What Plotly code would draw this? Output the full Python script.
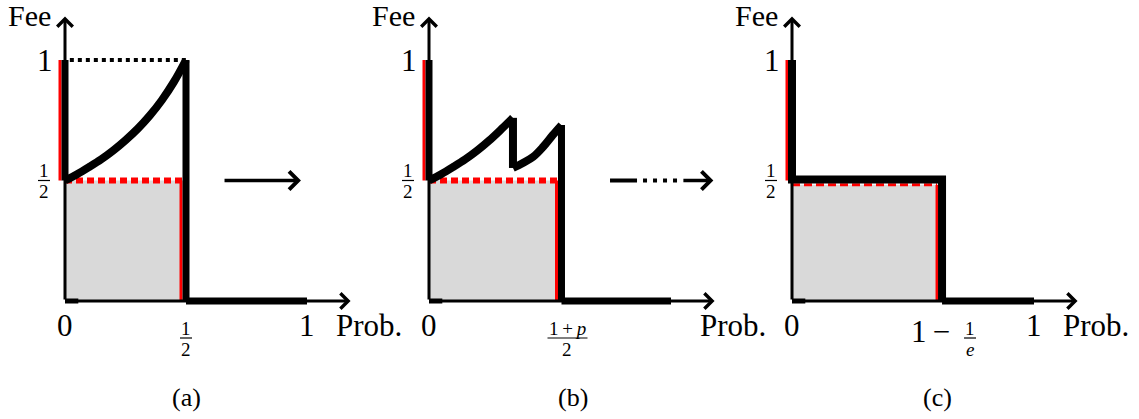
import plotly.graph_objects as go

# values (x = Prob., y = Fee)
fee_low = 0.5
fee_high = 1.0
prob_end = 1.0
axis_end = 1.2

# (a) curve from 1/2 up to 1, then cut at 1/2
a_curve_x = [0, 0.05, 0.1, 0.15, 0.2, 0.25, 0.3, 0.35, 0.4, 0.45, 0.5]
a_curve_y = [0.5, 0.526, 0.556, 0.588, 0.625, 0.667, 0.714, 0.769, 0.833, 0.909, 1.0]
a_cut = 0.5

# (b) two pieces with a jump, cut at (1+p)/2
b_curve1_x = [0, 0.05, 0.1, 0.15, 0.2, 0.25, 0.3, 0.347]
b_curve1_y = [0.5, 0.526, 0.556, 0.588, 0.625, 0.667, 0.714, 0.76]
b_curve2_x = [0.347, 0.388, 0.43, 0.471, 0.512, 0.5475]
b_curve2_y = [0.552, 0.573, 0.598, 0.639, 0.689, 0.73]
b_cut = 0.5475

# (c) flat at 1/2, cut at 1 - 1/e
c_cut = 0.62

# arrows between panels (x in the panel's own units)
arrow_ab = [0.653, 0.975]
arrow_bc_dash = [0.748, 1.045]
arrow_bc_head = 1.175

captions = ["(a)", "(b)", "(c)"]
caption_x = [0.5, 0.595, 0.6]

# layout helpers: pixels of the 1139x419 page
W, H = 1139, 419
PX = 242.0          # px per unit along Prob.
PY = 241.0          # px per unit along Fee
ZERO_Y = 301        # px (from top) of Fee = 0
origins = [65, 429, 792]
domains = [(0, 380), (364, 744), (728, 1139)]

RED = "#ff0000"
GRAY = "#d9d9d9"
FONT = "Liberation Serif, Times New Roman, DejaVu Serif, serif"
off = 5 / PX        # red rules sit just left of the black ones

fig = go.Figure()
annotations = []
shapes = []


def ax_names(i):
    s = "" if i == 0 else str(i + 1)
    return "x" + s, "y" + s


def line(i, xs, ys, color="black", width=3, dash=None, shape="linear"):
    xr, yr = ax_names(i)
    fig.add_trace(go.Scatter(x=xs, y=ys, xaxis=xr, yaxis=yr, mode="lines",
                             line=dict(color=color, width=width, dash=dash, shape=shape),
                             hoverinfo="skip", showlegend=False))


def text(i, x, y, s, size=31, xshift=0, yshift=0, **kw):
    xr, yr = ax_names(i)
    a = dict(x=x, y=y, xref=xr, yref=yr, text=s, showarrow=False,
             xshift=xshift, yshift=yshift,
             font=dict(family=FONT, size=size, color="black"))
    a.update(kw)
    annotations.append(a)


def frac(i, x, y, num, den, xshift=0, yshift=0, bar=12, size=19):
    xr, yr = ax_names(i)
    text(i, x, y, num, size, xshift, yshift + 10)
    text(i, x, y, den, size, xshift, yshift - 11)
    shapes.append(dict(type="line", xref=xr, yref=yr, xsizemode="pixel", ysizemode="pixel",
                       xanchor=x, yanchor=y, x0=xshift - bar / 2, x1=xshift + bar / 2,
                       y0=yshift, y1=yshift, line=dict(color="black", width=1.2)))


def arrow(i, x0, y0, x1, y1, width=3):
    xr, yr = ax_names(i)
    annotations.append(dict(x=x1, y=y1, ax=x0, ay=y0, xref=xr, yref=yr, axref=xr, ayref=yr,
                            text="", showarrow=True, arrowhead=4, arrowsize=1,
                            arrowwidth=width, arrowcolor="black", standoff=0))


def axes_frame(i, cut, top_fee):
    # gray area under the 1/2 line
    xr, yr = ax_names(i)
    gx = [0, cut - off, cut - off, 0, 0]
    gy = [0, 0, top_fee, top_fee, 0]
    fig.add_trace(go.Scatter(x=gx, y=gy, xaxis=xr, yaxis=yr, mode="lines", fill="toself",
                             fillcolor=GRAY, line=dict(width=0), hoverinfo="skip",
                             showlegend=False))
    arrow(i, 0, 0, axis_end - 0.02, 0)
    arrow(i, 0, 0, 0, axis_end - 0.02)
    line(i, [0, 0.055], [0, 0], width=5)
    # red rules
    line(i, [-off, -off], [fee_low, fee_high], color=RED, width=3)
    line(i, [cut - off, cut - off], [0, top_fee], color=RED, width=3)


def ticks(i):
    xr, yr = ax_names(i)
    annotations.append(dict(x=0, y=1, xref=xr, yref="paper", yanchor="top", text="Fee",
                            showarrow=False, xshift=-36, yshift=3,
                            font=dict(family=FONT, size=30, color="black")))
    text(i, 0, fee_high, "1", xshift=-20)
    frac(i, 0, fee_low, "1", "2", xshift=-21)
    text(i, 0, 0, "0", yshift=-24)
    text(i, 1.255, 0, "Prob.", yshift=-24)
    text(i, caption_x[i], 0, captions[i], size=26, yshift=-96)


# ---- panel (a)
axes_frame(0, a_cut, fee_low)
line(0, [0.02, a_cut], [fee_high, fee_high], width=4, dash="4px,4px")
line(0, [0, a_cut], [fee_low, fee_low], color=RED, width=6, dash="7px,4px")
line(0, [0, 0], [fee_low, fee_high], width=7)
line(0, a_curve_x, a_curve_y, width=8, shape="spline")
line(0, [a_cut, a_cut], [0, fee_high], width=7)
line(0, [a_cut, prob_end], [0, 0], width=7)
ticks(0)
text(0, prob_end, 0, "1", yshift=-24)
frac(0, a_cut, 0, "1", "2", yshift=-37)
arrow(0, arrow_ab[0], fee_low, arrow_ab[1], fee_low, width=3.5)

# ---- panel (b)
axes_frame(1, b_cut, fee_low)
line(1, [0, b_cut], [fee_low, fee_low], color=RED, width=6, dash="7px,4px")
line(1, [0, 0], [fee_low, fee_high], width=7)
line(1, b_curve1_x, b_curve1_y, width=8, shape="spline")
line(1, [b_curve1_x[-1], b_curve2_x[0]], [b_curve1_y[-1], b_curve2_y[0]], width=8)
line(1, b_curve2_x, b_curve2_y, width=8, shape="spline")
line(1, [b_cut, b_cut], [0, b_curve2_y[-1]], width=7)
line(1, [b_cut, prob_end], [0, 0], width=7)
ticks(1)
frac(1, b_cut, 0, "1\u2009+\u2009<i>p</i>", "2", xshift=6, yshift=-37, bar=40)
line(1, arrow_bc_dash, [fee_low, fee_low], width=4,
     dash="27px,6px,4px,6px,4px,6px,4px,6px,4px,5px")
arrow(1, arrow_bc_dash[1], fee_low, arrow_bc_head, fee_low, width=3.5)

# ---- panel (c)
axes_frame(2, c_cut, fee_low - 0.018)
line(2, [0, c_cut - off], [fee_low - 0.018, fee_low - 0.018], color=RED, width=3, dash="8px,4px")
line(2, [0, 0, c_cut, c_cut], [fee_high, fee_low + 0.004, fee_low + 0.004, 0], width=8)
line(2, [c_cut, prob_end], [0, 0], width=7)
ticks(2)
text(2, prob_end, 0, "1", yshift=-24)
text(2, c_cut, 0, "1\u2009\u2212", xshift=-12, yshift=-30)
frac(2, c_cut, 0, "1", "<i>e</i>", xshift=28, yshift=-37)

# ---- axes: same scale in every panel
yr = [(ZERO_Y - H) / PY, ZERO_Y / PY]
layout = dict(width=W, height=H, margin=dict(l=0, r=0, t=0, b=0),
              paper_bgcolor="white", plot_bgcolor="rgba(0,0,0,0)", showlegend=False,
              annotations=annotations, shapes=shapes)
for i in range(3):
    s = "" if i == 0 else str(i + 1)
    d0, d1 = domains[i]
    o = origins[i]
    layout["xaxis" + s] = dict(domain=[d0 / W, d1 / W], range=[(d0 - o) / PX, (d1 - o) / PX],
                               visible=False, anchor="y" + s, fixedrange=True)
    layout["yaxis" + s] = dict(domain=[0, 1], range=yr, visible=False,
                               anchor="x" + s, fixedrange=True)
fig.update_layout(**layout)

# page has a default 8px body margin; drop it so the figure fills the window
fig.write_html("out.html", config=dict(displayModeBar=False),
               post_script="document.body.style.margin='0';")
